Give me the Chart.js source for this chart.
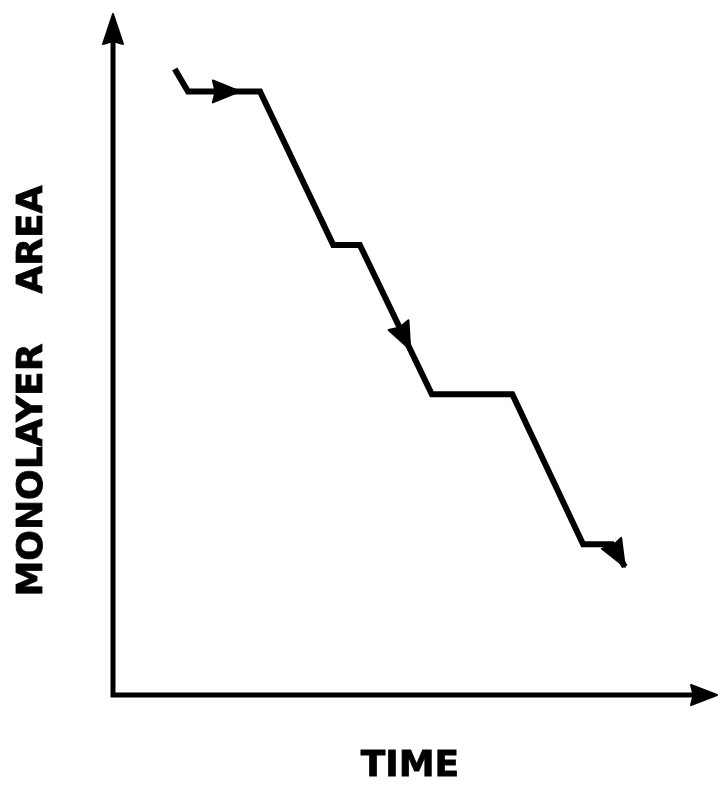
<!DOCTYPE html>
<html>
<head>
<meta charset="utf-8">
<script src="https://cdn.jsdelivr.net/npm/chart.js@4/dist/chart.umd.min.js"></script>
<style>
  html, body { margin: 0; padding: 0; background: #fff; }
  #wrap { width: 720px; height: 786px; }
</style>
</head>
<body>
<div id="wrap"><canvas id="chart" width="720" height="786"></canvas></div>
<script>
// path of the trace (arbitrary units 0..100)
const timeValues = [10.2, 12.4, 24.3, 36.4, 40.8, 52.7, 66.0, 77.7, 82.5, 84.6];
const areaValues = [91.8, 88.5, 88.5, 66.0, 66.0, 44.1, 44.1, 22.1, 22.1, 18.8];

// arrowheads along the trace: segment start index and fraction along it
const arrowSegments = [1, 4, 8];
const arrowFractions = [0.72, 0.70, 1.0];

const xTitle = 'TIME';
const yTitle = 'MONOLAYER    AREA';

const INK = '#000';

function arrowHead(ctx, tipX, tipY, angle, len, half) {
  ctx.save();
  ctx.translate(tipX, tipY);
  ctx.rotate(angle);
  ctx.beginPath();
  ctx.moveTo(0, 0);
  ctx.lineTo(-len, -half);
  ctx.lineTo(-len * 0.9, 0);
  ctx.lineTo(-len, half);
  ctx.closePath();
  ctx.fillStyle = INK;
  ctx.strokeStyle = INK;
  ctx.lineWidth = 2;
  ctx.lineJoin = 'round';
  ctx.fill();
  ctx.stroke();
  ctx.restore();
}

const sketchPlugin = {
  id: 'sketch',
  afterDatasetsDraw(chart) {
    const ctx = chart.ctx;
    const pts = chart.getDatasetMeta(0).data;
    arrowSegments.forEach((i, k) => {
      const a = pts[i], b = pts[i + 1];
      const t = arrowFractions[k];
      const x = a.x + (b.x - a.x) * t;
      const y = a.y + (b.y - a.y) * t;
      arrowHead(ctx, x, y, Math.atan2(b.y - a.y, b.x - a.x), 27, 11);
    });
  },
  afterDraw(chart) {
    const ctx = chart.ctx;
    const {left, right, top, bottom} = chart.chartArea;

    // axes
    ctx.save();
    ctx.strokeStyle = INK;
    ctx.lineWidth = 5;
    ctx.lineCap = 'square';
    ctx.beginPath();
    ctx.moveTo(left, top + 20);
    ctx.lineTo(left, bottom);
    ctx.lineTo(right - 20, bottom);
    ctx.stroke();
    ctx.restore();
    arrowHead(ctx, left, top + 1, -Math.PI / 2, 30, 10);
    arrowHead(ctx, right - 1, bottom, 0, 26, 10);

    // titles
    ctx.save();
    ctx.fillStyle = INK;
    ctx.strokeStyle = INK;
    ctx.lineWidth = 0.8;
    ctx.font = 'bold 36px "DejaVu Sans"';
    ctx.textAlign = 'center';
    ctx.textBaseline = 'middle';
    ctx.fillText(xTitle, 410, 767);
    ctx.strokeText(xTitle, 410, 767);
    ctx.translate(33, 391);
    ctx.rotate(-Math.PI / 2);
    ctx.fillText(yTitle, 0, 0);
    ctx.strokeText(yTitle, 0, 0);
    ctx.restore();
  }
};

new Chart(document.getElementById('chart'), {
  type: 'scatter',
  data: {
    datasets: [{
      data: timeValues.map((t, i) => ({x: t, y: areaValues[i]})),
      showLine: true,
      borderColor: INK,
      borderWidth: 6,
      borderJoinStyle: 'miter',
      borderCapStyle: 'butt',
      tension: 0,
      pointRadius: 0,
      pointHoverRadius: 0,
      fill: false
    }]
  },
  options: {
    responsive: false,
    animation: false,
    layout: {padding: {left: 113, top: 13, right: 2, bottom: 91}},
    scales: {
      x: {type: 'linear', min: 0, max: 100, display: false},
      y: {type: 'linear', min: 0, max: 100, display: false}
    },
    plugins: {
      legend: {display: false},
      tooltip: {enabled: false}
    }
  },
  plugins: [sketchPlugin]
});
</script>
</body>
</html>
